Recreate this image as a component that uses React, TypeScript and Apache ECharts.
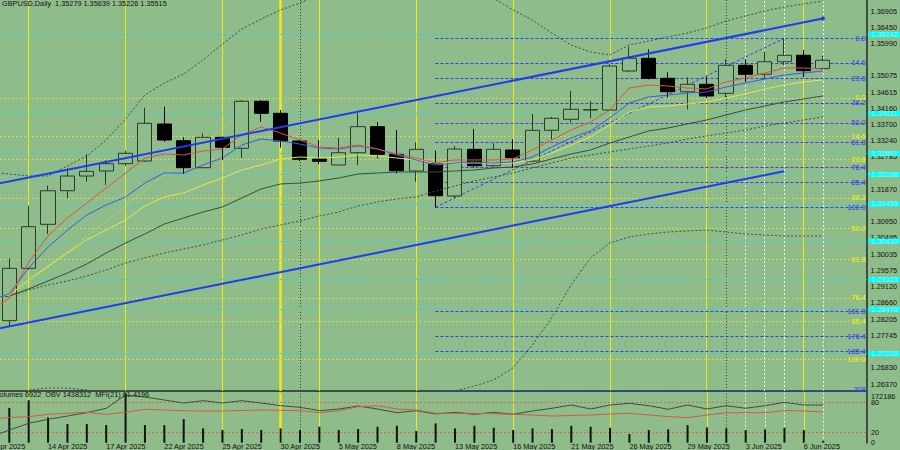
import React, { useEffect, useRef } from "react";
import * as echarts from "echarts";

const FONT = '"Liberation Sans", Arial, sans-serif';
const BG = "#8fbc8b";
const INK = "#111111";
const FS = 7.3;

// dates of bars -1 .. 42 (array index = bar + 1)
const dates = [
  "9 Apr", "10 Apr", "11 Apr", "14 Apr", "15 Apr", "16 Apr", "17 Apr", "18 Apr", "21 Apr", "22 Apr",
  "23 Apr", "24 Apr", "25 Apr", "28 Apr", "29 Apr", "30 Apr", "1 May", "2 May", "5 May", "6 May",
  "7 May", "8 May", "9 May", "12 May", "13 May", "14 May", "15 May", "16 May", "19 May", "20 May",
  "21 May", "22 May", "23 May", "26 May", "27 May", "28 May", "29 May", "30 May", "2 Jun", "3 Jun",
  "4 Jun", "5 Jun", "6 Jun", "9 Jun",
];

// [open, close, low, high] for bars 0..42
const candles = [
  [1.28159, 1.29639, 1.2799, 1.29921],
  [1.29639, 1.30814, 1.29591, 1.31407],
  [1.30881, 1.3183, 1.30608, 1.31972],
  [1.3183, 1.32245, 1.31616, 1.32463],
  [1.32245, 1.32378, 1.32085, 1.32867],
  [1.32387, 1.32593, 1.31991, 1.32697],
  [1.32593, 1.32886, 1.32528, 1.3296],
  [1.32669, 1.33734, 1.32641, 1.34174],
  [1.33714, 1.33262, 1.33214, 1.34202],
  [1.33242, 1.3248, 1.32302, 1.33338],
  [1.3248, 1.33338, 1.32463, 1.33451],
  [1.33338, 1.33056, 1.32697, 1.33355],
  [1.33028, 1.34355, 1.32762, 1.34392],
  [1.34355, 1.34016, 1.33779, 1.34392],
  [1.34016, 1.33234, 1.33045, 1.34109],
  [1.33234, 1.32717, 1.32669, 1.33262],
  [1.32725, 1.32661, 1.32584, 1.33262],
  [1.32556, 1.32903, 1.3254, 1.33327],
  [1.32903, 1.33638, 1.32556, 1.34016],
  [1.33638, 1.32858, 1.32745, 1.3377],
  [1.32858, 1.32395, 1.32322, 1.33544],
  [1.32387, 1.32999, 1.32085, 1.33197],
  [1.32593, 1.31689, 1.31362, 1.3296],
  [1.31681, 1.33008, 1.31616, 1.33093],
  [1.32999, 1.32536, 1.32491, 1.33573],
  [1.32536, 1.32999, 1.32508, 1.33169],
  [1.3298, 1.32762, 1.3248, 1.33282],
  [1.32669, 1.33536, 1.3264, 1.33996],
  [1.33536, 1.33875, 1.33282, 1.3392],
  [1.33847, 1.34129, 1.33762, 1.34646],
  [1.34109, 1.3412, 1.33875, 1.34363],
  [1.34109, 1.35352, 1.34081, 1.35408],
  [1.35211, 1.35569, 1.35182, 1.35897],
  [1.35569, 1.35004, 1.34976, 1.35823],
  [1.35004, 1.34626, 1.34468, 1.35174],
  [1.34626, 1.34835, 1.34129, 1.35033],
  [1.34835, 1.34505, 1.3444, 1.3505],
  [1.34581, 1.35372, 1.34468, 1.35541],
  [1.35372, 1.35117, 1.34891, 1.35541],
  [1.35117, 1.35473, 1.34976, 1.35756],
  [1.35473, 1.35654, 1.3538, 1.36134],
  [1.35654, 1.35219, 1.35033, 1.35804],
  [1.35279, 1.35515, 1.35226, 1.35639],
];

// tick volumes, bars 0..42
const volumes = [
  121260, 147930, 88000, 64790, 64790, 61320, 172186, 61320, 61320, 82110, 49890, 44000, 47460, 44000,
  49890, 44000, 55430, 44000, 47460, 55430, 58900, 40530, 67210, 49890, 58900, 51970, 44000, 49890,
  47460, 58900, 55430, 51970, 30140, 44000, 46420, 61320, 53350, 49890, 44000, 46420, 51970, 44000, 6922,
];

// indicator lines, bars -1..42
const maRed = [
  1.28405, 1.288, 1.29817, 1.30551, 1.3106, 1.31483, 1.31907, 1.3233, 1.32754, 1.32867, 1.32839, 1.32952,
  1.33008, 1.33404, 1.3363, 1.3346, 1.33262, 1.33065, 1.33036, 1.33121, 1.33008, 1.32867, 1.32754, 1.32613,
  1.32698, 1.32698, 1.32698, 1.32726, 1.3298, 1.33262, 1.33545, 1.33771, 1.3411, 1.34731, 1.34816, 1.34787,
  1.34731, 1.34703, 1.349, 1.35013, 1.35154, 1.35296, 1.35296, 1.35267,
];
const maBlue = [
  1.28744, 1.28913, 1.29648, 1.30241, 1.30721, 1.31144, 1.31427, 1.31653, 1.32048, 1.3233, 1.3233, 1.32556,
  1.32754, 1.33121, 1.33291, 1.33234, 1.33149, 1.33036, 1.33008, 1.33093, 1.33008, 1.32839, 1.32698, 1.32556,
  1.32613, 1.32641, 1.32613, 1.32641, 1.32782, 1.33065, 1.33319, 1.33517, 1.33884, 1.34307, 1.34477, 1.34533,
  1.3459, 1.34618, 1.34759, 1.34872, 1.34985, 1.35098, 1.35154, 1.35211,
];
const maYellow = [
  1.288, 1.28885, 1.29309, 1.29704, 1.30071, 1.30438, 1.30721, 1.31003, 1.31399, 1.31653, 1.31766, 1.31992,
  1.32189, 1.32415, 1.32556, 1.32726, 1.32782, 1.32754, 1.32782, 1.32839, 1.32811, 1.32754, 1.32698, 1.32613,
  1.32613, 1.32613, 1.32613, 1.32613, 1.32698, 1.32895, 1.33121, 1.33347, 1.33686, 1.34053, 1.34194, 1.34223,
  1.34279, 1.34336, 1.34448, 1.34561, 1.34703, 1.34816, 1.349, 1.34957,
];
const maGreen = [
  1.28829, 1.28857, 1.29055, 1.29281, 1.29506, 1.29761, 1.30071, 1.30354, 1.30608, 1.3089, 1.3106, 1.31229,
  1.3137, 1.31624, 1.31879, 1.3202, 1.32048, 1.32105, 1.32189, 1.32302, 1.3233, 1.32359, 1.32359, 1.32359,
  1.32387, 1.32415, 1.32472, 1.325, 1.32585, 1.32726, 1.32867, 1.3298, 1.33178, 1.33347, 1.33517, 1.33601,
  1.33714, 1.33827, 1.33968, 1.3411, 1.34223, 1.34336, 1.3442, 1.34505,
];
const maDotted = [
  1.288, 1.28857, 1.29026, 1.29168, 1.29281, 1.29422, 1.29591, 1.29789, 1.2993, 1.30071, 1.30184, 1.30297,
  1.30438, 1.3058, 1.30749, 1.30862, 1.30975, 1.31116, 1.31229, 1.31399, 1.31512, 1.31596, 1.31653, 1.31822,
  1.31963, 1.32105, 1.32218, 1.3233, 1.32472, 1.32613, 1.32754, 1.32839, 1.32924, 1.33008, 1.33093, 1.33178,
  1.33291, 1.33375, 1.3346, 1.33545, 1.33658, 1.33743, 1.33827, 1.33912,
];
const bandUpper = [
  1.32359, 1.32302, 1.32246, 1.32246, 1.32528, 1.32811, 1.33262, 1.33855, 1.34533, 1.34872, 1.35126, 1.35522,
  1.35973, 1.36397, 1.36679, 1.36934, 1.37131, 1.37357, 1.37555, 1.37724, 1.37837, 1.37894, 1.37894, 1.37781,
  1.37668, 1.37498, 1.37272, 1.36934, 1.36651, 1.36284, 1.35945, 1.35748, 1.35663, 1.35945, 1.36058, 1.36171,
  1.36284, 1.36425, 1.36623, 1.36764, 1.36905, 1.37018, 1.37103, 1.37188,
];
const bandLower = [
  1.25976, 1.26089, 1.26202, 1.26259, 1.26259, 1.26202, 1.26061, 1.25864, 1.257, 1.2565, 1.256, 1.2555,
  1.2552, 1.255, 1.2548, 1.255, 1.2555, 1.256, 1.2565, 1.257, 1.258, 1.259, 1.26, 1.2605,
  1.26174, 1.26315, 1.26485, 1.26824, 1.27473, 1.28236, 1.29168, 1.2993, 1.30354, 1.30523, 1.30608, 1.30664,
  1.30693, 1.30721, 1.30664, 1.30608, 1.3058, 1.30551, 1.30551, 1.30551,
];
const obv = [
  638312, 813312, 980812, 1080812, 1163312, 1245812, 1355812, 1688312, 1638312, 1563312, 1488312, 1545812,
  1488312, 1545812, 1488312, 1420812, 1380812, 1295812, 1338312, 1413312, 1338312, 1245812, 1295812, 1213312,
  1255812, 1205812, 1255812, 1205812, 1288312, 1355812, 1438312, 1338312, 1438312, 1480812, 1420812, 1330812,
  1438312, 1338312, 1420812, 1355812, 1420812, 1505812, 1438312, 1438312,
];
const mfi = [
  47.4, 50.4, 52.0, 56.8, 58.8, 60.8, 56.8, 60.8, 66.8, 65.4, 64.0, 63.4, 63.4, 64.4, 65.4, 64.8, 64.0, 60.0,
  64.0, 72.0, 74.0, 67.4, 65.4, 58.8, 58.8, 58.8, 57.8, 56.8, 55.4, 53.4, 54.4, 55.4, 57.4, 58.8, 55.4, 52.4,
  50.0, 55.4, 60.0, 60.0, 60.0, 64.5, 63.5, 61.42,
];

// visible price-scale labels (those fully hidden behind the price boxes are left out)
const priceTicks = [
  1.36905, 1.3645, 1.3599, 1.35075, 1.34615, 1.3416, 1.337, 1.3324, 1.32785, 1.3187,
  1.3095, 1.30495, 1.30035, 1.29575, 1.2912, 1.2866, 1.28205, 1.27745, 1.2683, 1.2637,
];
const mfiTicks = [0, 20, 80];
const volumeTicks = [172186];

const trendUpper = [[-1, 1.31983], [42, 1.36691]];
const trendLower = [[-1, 1.27888], [40, 1.32379]];

const fibBlue = { startBar: 22, endBar: 40, low: 1.31362, high: 1.36134 };
const fibBlueRatios = [0, 14.6, 23.6, 38.2, 50, 61.8, 76.4, 85.4, 100, 161.8, 176.4, 185.4, 208];
const fibBlueLabels = ["0.0", "14.6", "23.6", "38.2", "50.0", "61.8", "76.4", "85.4", "100.0", "161.8", "176.4", "185.4", "208"];
const fibYellow = { startBar: -4, endBar: 13, low: 1.27064, high: 1.34449 };
const fibYellowRatios = [0, 14.6, 23.6, 38.2, 50, 61.8, 76.4, 85.4, 100];
const fibYellowLabels = ["0.0", "14.6", "23.6", "38.2", "50.0", "61.8", "76.4", "85.4", "100.0"];

const cyanLevels = [1.36242, 1.34011, 1.32881, 1.32288, 1.31455, 1.3041, 1.29323, 1.28476, 1.27228];
const lastPrice = 1.35515;

const fridayBars = [1, 6, 11, 16, 21, 26, 31, 36, 41];
const monthEndBars = [14];
const monthStartBars = [15, 37];
const markedBars = [38, 39, 40, 42];

const titleText = "GBPUSD,Daily  1.35279 1.35639 1.35226 1.35515";
const indicatorText = "Volumes 6922  OBV 1438312  MFI(21) 61.4196";

// layout: bar i sits at 9.3 + 19.38 * i px, plot 867 px wide
const XMIN = -0.4799;
const XMAX = 44.26;
const GRID_W = 867;
const AXIS_COLOR = "#3e4e3e";
const barPx = (b: number) => ((b - XMIN) / (XMAX - XMIN)) * GRID_W;

const fibPrice = (f: { low: number; high: number }, r: number) => f.high - (r / 100) * (f.high - f.low);
const series1 = (arr: number[]) => arr.map((v, k) => [k - 1, v]);

function verticalItems() {
  return [
    ...fridayBars.map((b) => ({ xAxis: b, lineStyle: { color: "#ecec12", width: 1, type: "solid" } })),
    ...monthEndBars.map((b) => ({ xAxis: b, lineStyle: { color: "#ecec12", width: 2.5, type: "solid" } })),
    ...monthStartBars.map((b) => ({ xAxis: b, lineStyle: { color: "#3a3a3a", width: 1, type: [1, 2] } })),
    ...markedBars.map((b) => ({ xAxis: b, lineStyle: { color: "#f2f2f2", width: 1, type: [2, 2] } })),
  ];
}

const fibLabel = (text: string, color: string) => ({
  show: true,
  position: "insideEnd",
  distance: [1, 0],
  formatter: text,
  color,
  fontSize: FS,
  fontFamily: FONT,
  padding: [0, 0, 5, 0],
});

const boxLabel = (text: string, bg: string, fg: string) => ({
  show: true,
  position: "end",
  distance: 1.5,
  formatter: text,
  backgroundColor: bg,
  color: fg,
  fontSize: FS,
  fontFamily: FONT,
  lineHeight: 5,
  padding: [0, 4, 0, 3],
});

const markBase = { silent: true, symbol: "none", z: 1, animation: false, precision: 6, label: { show: false } };

function buildOption(): any {
  const yellowLevels = fibYellowRatios.map((r, j) => ({
    yAxis: fibPrice(fibYellow, r),
    lineStyle: { color: "#d6d64e", width: 1, type: [2, 2] },
    label: fibLabel(fibYellowLabels[j], "#f4f400"),
  }));
  const blueLevels = fibBlueRatios.map((r, j) => {
    const p = fibPrice(fibBlue, r);
    return [
      {
        coord: [fibBlue.startBar, p],
        lineStyle: { color: "#3b3bec", width: 1, type: [3, 2] },
        label: fibLabel(fibBlueLabels[j], "#3434f4"),
      },
      { coord: [XMAX, p] },
    ];
  });
  const cyanItems = cyanLevels.map((p) => ({
    yAxis: p,
    lineStyle: { color: "#46cfc6", width: 1, type: [3, 2] },
    label: boxLabel(p.toFixed(5), "#00ffff", "#9cf6f6"),
  }));
  const lastItem = {
    yAxis: lastPrice,
    lineStyle: { opacity: 0 },
    label: boxLabel(lastPrice.toFixed(5), "#000000", "#ffffff"),
  };

  const lineBase = { type: "line", symbol: "none", silent: true, xAxisIndex: 0, yAxisIndex: 0, z: 4 };
  const labelIdx = dates.map((_, k) => k - 1).filter((b) => (b + 1) % 3 === 0 && b >= XMIN);
  const firstLabelBar = -1;

  return {
    animation: false,
    backgroundColor: BG,
    grid: [
      { left: 0, top: 0, width: GRID_W, height: 391 },
      { left: 0, top: 392.7, width: GRID_W, height: 50 },
    ],
    xAxis: [
      {
        type: "value", gridIndex: 0, min: XMIN, max: XMAX,
        axisLine: { show: true, onZero: false, lineStyle: { color: AXIS_COLOR, width: 2 } },
        axisTick: { show: false }, axisLabel: { show: false }, splitLine: { show: false },
      },
      {
        type: "value", gridIndex: 1, min: XMIN, max: XMAX,
        axisLine: { show: false, onZero: false }, axisTick: { show: false }, splitLine: { show: false },
        axisLabel: {
          customValues: labelIdx,
          formatter: (v: number) => `${dates[Math.round(v) + 1]} 2025`,
          align: "left", margin: 0, fontSize: FS, fontFamily: FONT, color: INK,
        },
      },
    ],
    yAxis: [
      {
        type: "value", gridIndex: 0, position: "right", min: 1.26174, max: 1.37216,
        axisLine: { show: true, onZero: false, lineStyle: { color: AXIS_COLOR, width: 2 } },
        axisTick: { show: false }, splitLine: { show: false },
        axisLabel: {
          customValues: priceTicks, formatter: (v: number) => v.toFixed(5),
          margin: 4, fontSize: FS, fontFamily: FONT, color: INK,
        },
      },
      {
        type: "value", gridIndex: 1, position: "right", min: 0, max: 100,
        axisLine: { show: true, onZero: false, lineStyle: { color: AXIS_COLOR, width: 2 } },
        axisTick: { show: false }, splitLine: { show: false },
        axisLabel: { customValues: mfiTicks, margin: 4, fontSize: FS, fontFamily: FONT, color: INK },
      },
      {
        type: "value", gridIndex: 1, position: "right", min: 0, max: 174277,
        axisLine: { show: false, onZero: false }, axisTick: { show: false }, splitLine: { show: false },
        axisLabel: {
          customValues: volumeTicks, margin: 4, fontSize: FS, fontFamily: FONT, color: INK,
          verticalAlign: "top", formatter: (v: number) => String(v),
        },
      },
      {
        type: "value", gridIndex: 1, position: "right", min: 495812, max: 1745812, show: false,
      },
    ],
    graphic: [
      { type: "text", x: 2, y: 0, z: 20, style: { text: titleText, fill: INK, fontSize: FS, fontFamily: FONT } },
      { type: "text", x: -5, y: 391, z: 20, style: { text: indicatorText, fill: INK, fontSize: FS, fontFamily: FONT } },
      {
        type: "text", x: barPx(firstLabelBar), y: 442.7, z: 20,
        style: { text: `${dates[firstLabelBar + 1]} 2025`, fill: INK, fontSize: FS, fontFamily: FONT },
      },
    ],
    series: [
      {
        ...lineBase, name: "fibYellowDiag", z: 1, data: [[fibYellow.startBar, fibYellow.low], [fibYellow.endBar, fibYellow.high]],
        lineStyle: { color: "#d6d64e", width: 1, type: [2, 2] },
        markLine: { ...markBase, data: [...verticalItems(), ...yellowLevels] },
      },
      {
        ...lineBase, name: "fibBlueDiag", z: 1, clip: false, data: [[fibBlue.startBar, fibBlue.low], [fibBlue.endBar, fibBlue.high]],
        lineStyle: { color: "#3b3bec", width: 1, type: [3, 2] },
        markLine: { ...markBase, data: [...blueLevels, ...cyanItems, lastItem] },
      },
      {
        type: "candlestick", name: "GBPUSD", xAxisIndex: 0, yAxisIndex: 0, z: 3, silent: true,
        barWidth: 14.6,
        data: candles.map((c, i) => [i, c[0], c[1], c[2], c[3]]),
        itemStyle: { color: BG, color0: "#000000", borderColor: "#2b3a2b", borderColor0: "#000000", borderWidth: 1 },
      },
      { ...lineBase, name: "bandUpper", data: series1(bandUpper), lineStyle: { color: "#3f4f3f", width: 1, type: [2, 2] } },
      { ...lineBase, name: "bandLower", data: series1(bandLower), lineStyle: { color: "#3f4f3f", width: 1, type: [2, 2] } },
      { ...lineBase, name: "maDotted", data: series1(maDotted), lineStyle: { color: "#3f4f3f", width: 1, type: [2, 2] } },
      { ...lineBase, name: "maGreen", data: series1(maGreen), lineStyle: { color: "#34503a", width: 1 } },
      { ...lineBase, name: "maYellow", data: series1(maYellow), lineStyle: { color: "#e6e64a", width: 1 } },
      { ...lineBase, name: "maBlue", data: series1(maBlue), lineStyle: { color: "#3a5ae8", width: 1 } },
      { ...lineBase, name: "maRed", data: series1(maRed), lineStyle: { color: "#e0533c", width: 1 } },
      {
        ...lineBase, name: "trendUpper", showSymbol: true,
        data: [trendUpper[0], { value: trendUpper[1], symbol: "circle", symbolSize: 4 }],
        itemStyle: { color: "#1e3cf0" },
        lineStyle: { color: "#1e3cf0", width: 2 },
      },
      { ...lineBase, name: "trendLower", data: trendLower, lineStyle: { color: "#1e3cf0", width: 2 } },
      {
        type: "bar", name: "Volumes", xAxisIndex: 1, yAxisIndex: 2, z: 3, silent: true, barWidth: 2,
        data: volumes.map((v, i) => [i, v]), itemStyle: { color: "#111111" },
        markLine: { ...markBase, data: verticalItems() },
      },
      {
        type: "line", name: "OBV", xAxisIndex: 1, yAxisIndex: 3, z: 4, symbol: "none", silent: true,
        data: series1(obv), lineStyle: { color: "#3d4f3d", width: 1 },
      },
      {
        type: "line", name: "MFI", xAxisIndex: 1, yAxisIndex: 1, z: 4, symbol: "none", silent: true,
        data: series1(mfi), lineStyle: { color: "#d8583f", width: 1 },
        markLine: {
          ...markBase,
          data: [
            { yAxis: 80, lineStyle: { color: "#d86a5a", width: 1, type: [2, 2] } },
            { yAxis: 20, lineStyle: { color: "#d86a5a", width: 1, type: [2, 2] } },
          ],
        },
      },
    ],
  };
}

export default function App() {
  const ref = useRef<HTMLDivElement>(null);
  useEffect(() => {
    if (!ref.current) return;
    const chart = echarts.init(ref.current, null, { renderer: "svg" });
    chart.setOption(buildOption());
    return () => chart.dispose();
  }, []);
  return <div ref={ref} style={{ position: "fixed", left: 0, top: 0, width: 900, height: 450 }} />;
}
